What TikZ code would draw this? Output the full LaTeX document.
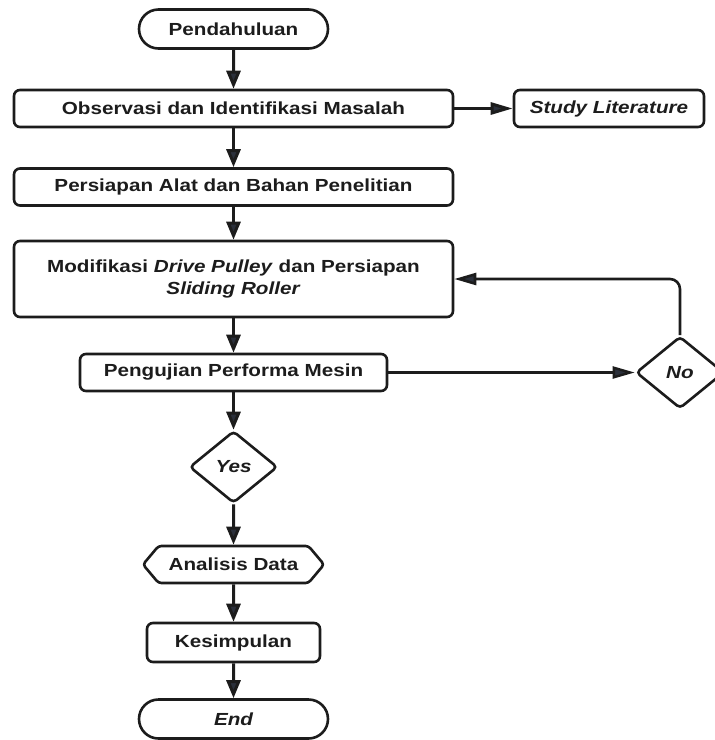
\documentclass[tikz,border=0pt]{standalone}
\usepackage{fontspec}
\setmainfont[FakeStretch=1.18]{Liberation Sans}
\usetikzlibrary{arrows.meta,shapes.geometric,shapes.misc,shapes.symbols}
\definecolor{edge}{HTML}{1C1C1C}
\definecolor{tip}{HTML}{2B303B}

\begin{document}
\begin{tikzpicture}[x=1pt, y=1pt,
  font=\fontsize{17.5}{22}\selectfont\bfseries, text=edge,
  box/.style={draw=edge, line width=2.6pt, rounded corners=6pt, minimum height=37pt, inner sep=0pt},
  term/.style={draw=edge, line width=2.6pt, rounded rectangle, minimum width=189pt, minimum height=39pt, inner sep=0pt},
  decide/.style={draw=edge, line width=2.6pt, diamond, rounded corners=4pt, minimum width=88pt, minimum height=72pt, inner sep=0pt},
  prepbox/.style={draw=edge, line width=2.6pt, signal, signal to=west and east, signal pointer angle=100, rounded corners=3pt, minimum width=181pt, minimum height=37pt, inner sep=0pt},
  arr/.style={draw=edge, line width=3pt, -{Triangle[length=18pt,width=14pt,fill=tip]}},
  harr/.style={draw=edge, line width=2.4pt, -{Triangle[length=22pt,width=12pt,fill=tip]}}]
  \useasboundingbox (0,0) rectangle (715,-740);

  % Draw nodes
  \node[term] (pend) at (233.5,-29) {Pendahuluan};
  \node[box, minimum width=439pt] (obs) at (233.5,-108.5) {Observasi dan Identifikasi Masalah};
  \node[box, minimum width=190pt] (study) at (609,-108.5) {\itshape Study Literature};
  \node[box, minimum width=439pt] (prep) at (233.5,-187) {Persiapan Alat dan Bahan Penelitian};
  \node[box, minimum width=439pt, minimum height=76pt, align=center] (mod) at (233.5,-279)
    {Modifikasi \textit{Drive Pulley} dan Persiapan\\\textit{Sliding Roller}};
  \node[box, minimum width=307pt] (test) at (233.5,-372.5) {Pengujian Performa Mesin};
  \node[decide] (no) at (680,-372.5) {\itshape No};
  \node[decide] (yes) at (233.5,-467) {\itshape Yes};
  \node[prepbox] (anal) at (233.5,-564.5) {Analisis Data};
  \node[box, minimum width=173pt, minimum height=39pt] (concl) at (233.5,-642.5) {Kesimpulan};
  \node[term] (end) at (233.5,-719) {\itshape End};

  % Draw arrows
  \draw[arr] (pend) -- (obs);
  \draw[arr] (obs) -- (prep);
  \draw[arr] (prep) -- (mod);
  \draw[arr] (mod) -- (test);
  \draw[arr] (test) -- (yes);
  \draw[arr] (yes) -- (anal);
  \draw[arr] (anal) -- (concl);
  \draw[arr] (concl) -- (end);
  \draw[harr, line width=3pt] (obs) -- (study);
  \draw[harr] (test) -- (no);

  % Draw loop back
  \draw[harr, line width=2.6pt, rounded corners=10pt] (no.north) |- (mod.east);
\end{tikzpicture}
\end{document}
